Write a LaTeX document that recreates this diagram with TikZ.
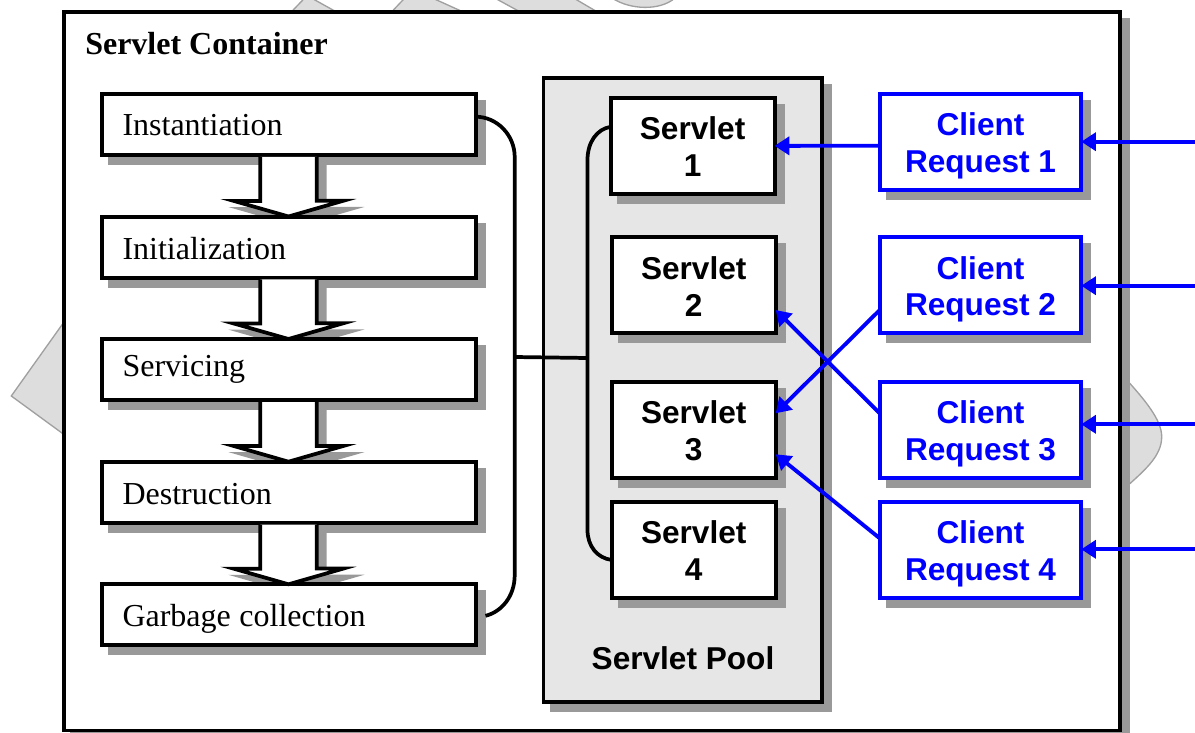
\documentclass[tikz,border=0pt]{standalone}
\usepackage{fontspec}
\setmainfont{Liberation Serif}
\setsansfont{Liberation Sans}
\usetikzlibrary{arrows.meta,calc}
\definecolor{sh}{HTML}{999999}
\definecolor{poolgray}{HTML}{E6E6E6}
\definecolor{bggray}{HTML}{DDDDDD}
\definecolor{bgline}{HTML}{A0A0A0}
\definecolor{reqblue}{HTML}{0000FF}
\pgfdeclarelayer{base}
\pgfdeclarelayer{mid}
\pgfsetlayers{base,mid,main}
\newcommand{\srvup}{\rule{0pt}{18.6pt}}
\newcommand{\cliup}{\rule{0pt}{23.3pt}}
\tikzset{
  wh/.style 2 args={minimum width=#1*0.75pt,minimum height=#2*0.75pt},
  shadowed/.style={preaction={draw=sh,fill=sh,transform canvas={shift={(6pt,-6pt)}}}},
  outline/.style={draw=black,fill=white,line width=3pt,inner sep=0pt,outer sep=0pt,shadowed},
  stage/.style={outline,wh={372}{61},text width=249pt,inner xsep=15.75pt,align=left,
    font=\fontsize{24}{28}\selectfont,text height=#1*1.5pt,text depth=0pt},
  servlet/.style={outline,wh={164}{96},align=center,font=\fontsize{23.7}{27.5}\selectfont\sffamily\bfseries},
  client/.style={servlet,draw=reqblue,text=reqblue,wh={201.5}{96}},
  blocktip/.style={line width=2.8pt,miter limit=20},
  req/.style={draw=reqblue,line width=2.9pt,-{Triangle[length=11pt,width=13.5pt]}},
  bracket/.style={draw=black,line width=2.8pt},
  bgshape/.style={draw=bgline,fill=bggray,line width=1pt},
}
\newcommand{\blockpath}[2]{($(#1.south)+(-28.2,2)$) -- ++(0,44) -- ++(-26.5,0) -- (#2.north) -- ++(54.7,-15.7) -- ++(-26.5,0) -- ++(0,-44)}
\newcommand{\blockarrow}[2]{%
  \begin{pgfonlayer}{mid}
    \draw[blocktip,draw=sh,fill=sh,transform canvas={shift={(6pt,-6pt)}}] \blockpath{#1}{#2};
  \end{pgfonlayer}
  \draw[blocktip,draw=black,fill=white] \blockpath{#1}{#2};}
\begin{document}
\begin{tikzpicture}[x=0.75pt,y=-0.75pt]
\useasboundingbox (0,0) rectangle (1195,732);
\begin{pgfonlayer}{base}
  \draw[bgshape] (64,322) -- (11.3,396) -- (64,434.5) -- cycle;
  \draw[bgshape] (283.6,20) -- (307,-4.4) -- (351,20) -- cycle;
  \draw[bgshape] (384,20) -- (413,-10.7) -- (481,20) -- cycle;
  \draw[bgshape] (480,-10) -- (535,20) -- (611,20) -- (560,-10) -- cycle;
  \draw[bgshape] (612,-2) .. controls (630,10) and (660,11) .. (675,-2) -- cycle;
  \draw[bgshape] (1125,378) .. controls (1145,400) and (1161.7,420) .. (1161.7,436.7) .. controls (1161.7,456) and (1145,470) .. (1125,488) -- cycle;
  \node[outline,line width=2.8pt,wh={1056}{718.5}] (container) at (592,371.25) {};
\end{pgfonlayer}
\node[anchor=base west,inner sep=0pt,font=\fontsize{24}{28}\selectfont\bfseries] (title) at (85,54) {Servlet Container};

\node[stage=11.2] (st1) at (288.5,124.4) {Instantiation};
\node[stage=12] (st2) at (288.5,247) {Initialization};
\node[stage=7] (st3) at (288.5,369.5) {Servicing};
\node[stage=12] (st4) at (288.5,492.2) {Destruction};
\node[stage=12] (st5) at (288.5,614.8) {Garbage\hspace{-1.6pt} collection};
\blockarrow{st1}{st2}
\blockarrow{st2}{st3}
\blockarrow{st3}{st4}
\blockarrow{st4}{st5}

\node[outline,fill=poolgray,line width=2.8pt,wh={278.6}{624}] (pool) at (682.7,390.3) {};
\node[anchor=base,inner sep=0pt,font=\fontsize{23.7}{27.5}\selectfont\sffamily\bfseries] (poollabel) at (683,669) {Servlet Pool};

\node[servlet] (s1) at (692.6,145.85) {\srvup Servlet\\1};
\node[servlet] (s2) at (693.7,285.3) {\srvup Servlet\\2};
\node[servlet] (s3) at (693.7,429.5) {\srvup Servlet\\3};
\node[servlet] (s4) at (693.7,549.8) {\srvup Servlet\\4};

\node[client] (c1) at (980.5,141.85) {\cliup Client\\Request 1};
\node[client] (c2) at (980.5,285.3) {\cliup Client\\Request 2};
\node[client] (c3) at (980.5,429.5) {\cliup Client\\Request 3};
\node[client] (c4) at (980.5,549.5) {\cliup Client\\Request 4};

\coordinate (bl) at (514.7,357);
\coordinate (br) at (587.5,358);
\draw[bracket] ($(st1.east)+(0,-7.7)$) .. controls (497,116.7) and (514.7,135) .. (514.7,157) -- (bl) -- (514.7,575)
  .. controls (514.7,597) and (501,612) .. ($(st5.east)+(10,1)$);
\draw[bracket] (bl) -- (br);
\draw[bracket] ($(s1.west)+(0,-19)$) .. controls (597,129) and (587.5,142) .. (587.5,160) -- (br) -- (587.5,530)
  .. controls (587.5,546) and (597,558) .. ($(s4.west)+(0,10.2)$);

\coordinate (in1) at (1195,141.7);
\coordinate (in2) at (1195,285.7);
\coordinate (in3) at (1195,424.3);
\coordinate (in4) at (1195,549.3);
\draw[req] (in1) -- (c1.east |- in1);
\draw[req] (in2) -- (c2.east |- in2);
\draw[req] (in3) -- (c3.east |- in3);
\draw[req] (in4) -- (c4.east |- in4);
\draw[req] ($(c1.west)+(0,3.85)$) -- ($(s1.east)+(0,0)$);
\draw[req] ($(c2.west)+(0,24.7)$) -- ($(s3.east)+(0,-16.2)$);
\draw[req] ($(c3.west)+(0,-16.2)$) -- ($(s2.east)+(0,24.7)$);
\draw[req] ($(c4.west)+(0,-11.2)$) -- ($(s3.east)+(0,24.8)$);
\end{tikzpicture}
\end{document}
